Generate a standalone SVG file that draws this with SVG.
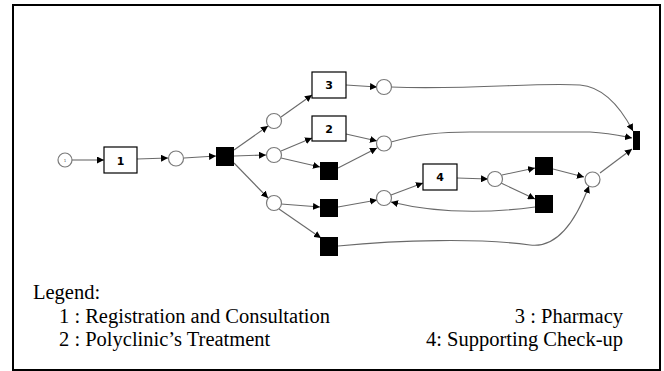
<svg xmlns="http://www.w3.org/2000/svg" width="664" height="371" viewBox="0 0 664 371">
<defs>
<marker id="ah" viewBox="0 0 10 10" refX="10" refY="5" markerWidth="7" markerHeight="7" markerUnits="userSpaceOnUse" orient="auto">
<path d="M0,0 L10,5 L0,10 z" fill="#000"/>
</marker>
<style>
.e{fill:none;stroke:#6a6a6a;stroke-width:1.1;marker-end:url(#ah)}
.p{fill:#fff;stroke:#7a7a7a;stroke-width:1.2}
.t{fill:#fff;stroke:#000;stroke-width:1.2}
.b{fill:#000}
.lb{font-family:"DejaVu Sans",Verdana,sans-serif;font-weight:bold;font-size:11px;text-anchor:middle;fill:#000}
.lg{font-family:"Liberation Serif","Times New Roman",serif;font-size:20.5px;fill:#000}
</style>
</defs>
<rect x="13" y="5" width="647" height="365" fill="#fff" stroke="#000" stroke-width="2"/>
<g id="connectors">
<path class="e" d="M72,160 L104,160"/>
<path class="e" d="M137,159 L168,158"/>
<path class="e" d="M184,158 L216,156"/>
<path class="e" d="M234,150 L268,126"/>
<path class="e" d="M234,156 L266,155"/>
<path class="e" d="M234,163 L268,198"/>
<path class="e" d="M281,117 L312,95"/>
<path class="e" d="M346,85 L377,87"/>
<path class="e" d="M391,87 C470,90 540,82 580,85 C605,87 622,110 633,131"/>
<path class="e" d="M281,151 L312,138"/>
<path class="e" d="M281,158 L320,167"/>
<path class="e" d="M346,134 L377,141"/>
<path class="e" d="M338,168 L377,148"/>
<path class="e" d="M391,142 C420,134 440,132 470,132 L590,132 C610,133 622,136 632,138"/>
<path class="e" d="M281,204 L320,207"/>
<path class="e" d="M279,209 L321,238"/>
<path class="e" d="M338,207 L377,200"/>
<path class="e" d="M391,195 L423,183"/>
<path class="e" d="M535,207 C490,213 440,214 391,202"/>
<path class="e" d="M457,178 L488,179"/>
<path class="e" d="M502,175 L535,168"/>
<path class="e" d="M501,183 L535,199"/>
<path class="e" d="M553,169 L584,177"/>
<path class="e" d="M600,173 L632,149"/>
<path class="e" d="M338,246 C400,240 480,238 530,245 C560,249 578,215 589,186"/>
</g>
<g id="start"><circle class="p" cx="65" cy="160" r="7"/><text x="65" y="162" font-family="DejaVu Sans,sans-serif" font-size="4" text-anchor="middle" fill="#555">1</text></g>
<g id="t1"><rect class="t" x="104" y="147" width="33" height="26"/><text class="lb" x="120.5" y="164.5">1</text></g>
<g id="p1"><circle class="p" cx="176" cy="158.5" r="7.5"/></g>
<g id="s1"><rect class="b" x="216" y="147" width="18" height="19"/></g>
<g id="p2"><circle class="p" cx="274" cy="121" r="7.5"/></g>
<g id="p3"><circle class="p" cx="274" cy="155" r="7.5"/></g>
<g id="p4"><circle class="p" cx="274" cy="203" r="7.5"/></g>
<g id="t3"><rect class="t" x="312" y="72" width="34" height="26"/><text class="lb" x="329" y="89">3</text></g>
<g id="t2"><rect class="t" x="312" y="116" width="34" height="25"/><text class="lb" x="329" y="132.5">2</text></g>
<g id="s2"><rect class="b" x="320" y="162" width="18" height="18"/></g>
<g id="s3"><rect class="b" x="320" y="199" width="18" height="18"/></g>
<g id="s4"><rect class="b" x="320" y="237" width="18" height="19"/></g>
<g id="p5"><circle class="p" cx="384" cy="87" r="7.5"/></g>
<g id="p6"><circle class="p" cx="384" cy="143.5" r="7.5"/></g>
<g id="p7"><circle class="p" cx="384" cy="198" r="7.5"/></g>
<g id="t4"><rect class="t" x="423" y="164" width="34" height="26"/><text class="lb" x="440" y="181">4</text></g>
<g id="p8"><circle class="p" cx="495" cy="179" r="7.5"/></g>
<g id="s5"><rect class="b" x="535" y="157" width="18" height="18"/></g>
<g id="s6"><rect class="b" x="535" y="195" width="18" height="18"/></g>
<g id="p9"><circle class="p" cx="592.5" cy="179.5" r="7.5"/></g>
<g id="s7"><rect class="b" x="633" y="131" width="7" height="19"/></g>
<g id="legend">
<text class="lg" x="33" y="299">Legend:</text>
<text class="lg" x="59" y="323">1 : Registration and Consultation</text>
<text class="lg" x="59" y="346">2 : Polyclinic’s Treatment</text>
<text class="lg" x="623" y="323" text-anchor="end">3 : Pharmacy</text>
<text class="lg" x="623" y="346" text-anchor="end">4: Supporting Check-up</text>
</g>
</svg>
